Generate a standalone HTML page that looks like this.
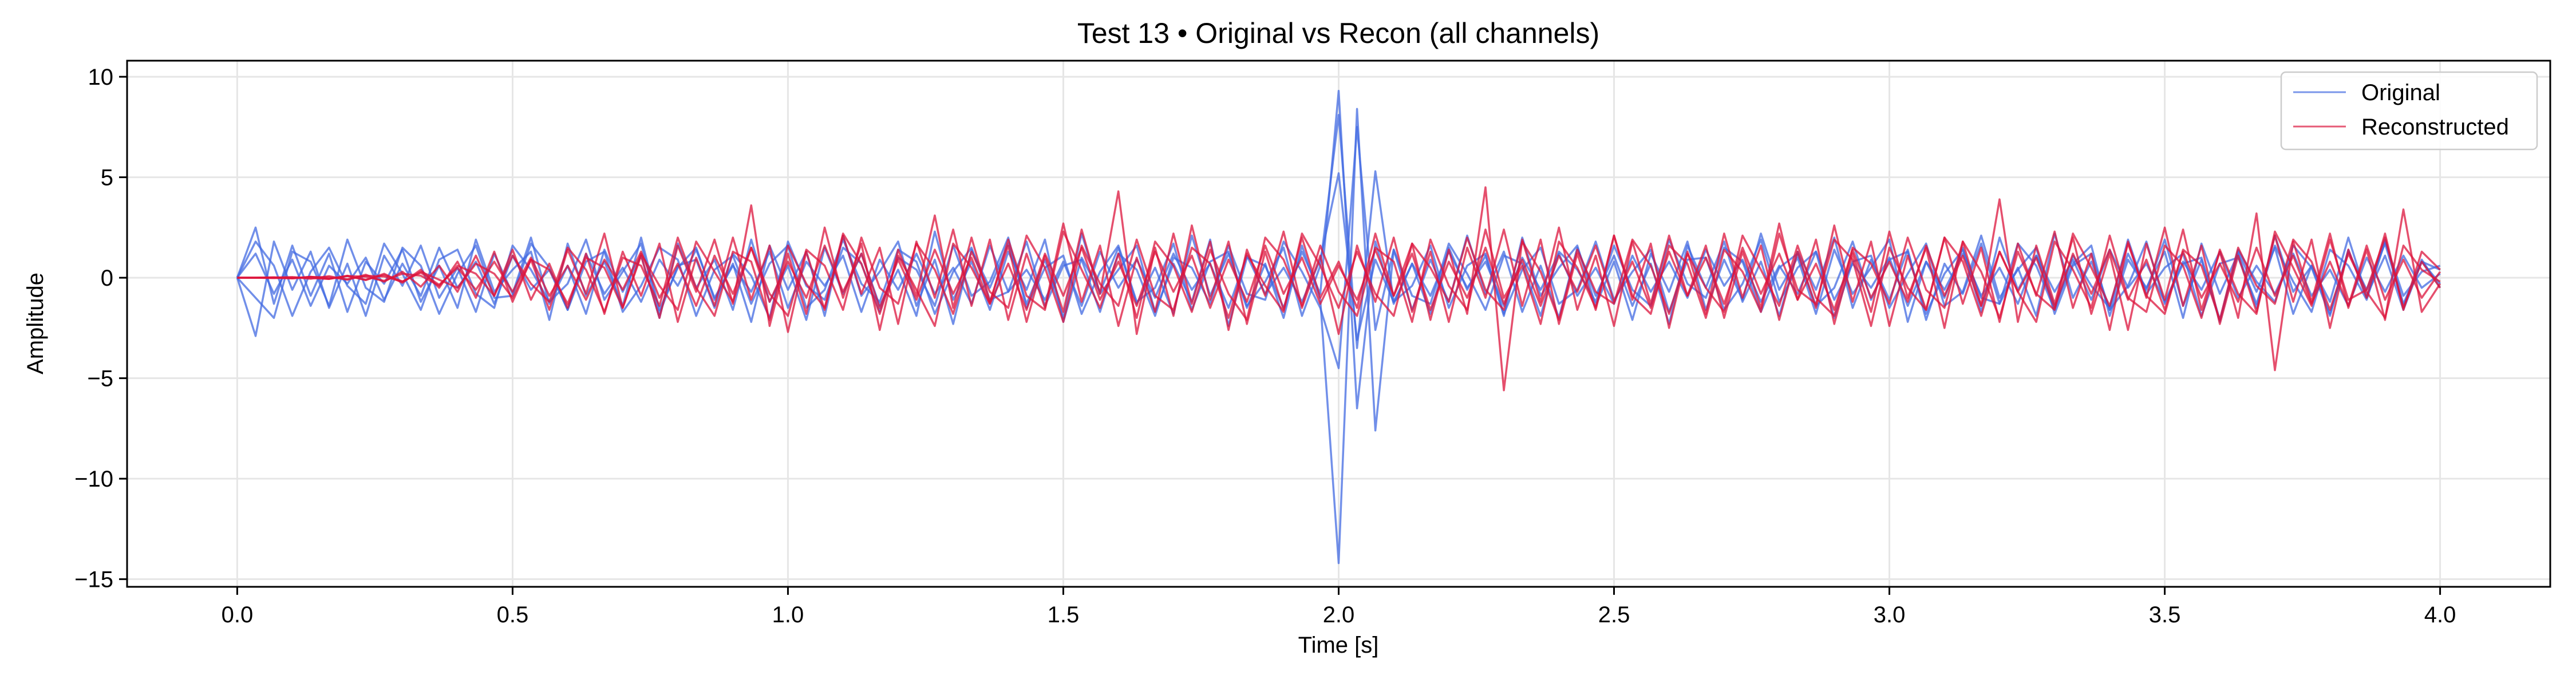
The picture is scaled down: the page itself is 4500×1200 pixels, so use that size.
<!DOCTYPE html>
<html><head><meta charset="utf-8"><style>
html,body{margin:0;padding:0;background:#fff;}
svg{display:block;font-family:"Liberation Sans","DejaVu Sans",sans-serif;}
</style></head><body>
<svg id="chart" width="4500" height="1200" viewBox="0 0 4500 1200">
<text x="2338" y="75" font-size="50" text-anchor="middle">Test 13 • Original vs Recon (all channels)</text>
<g id="grid"></g>
<g id="ticks"></g>
<g id="series"></g>
<rect x="222" y="106" width="4233" height="919" fill="none" stroke="#000" stroke-width="3"/>
<text x="2338" y="1140" font-size="40" text-anchor="middle">Time [s]</text>
<text x="75" y="565" font-size="40" text-anchor="middle" transform="rotate(-90 75 565)">Amplitude</text>
<g>
<rect x="3985" y="126" width="447" height="135" rx="8" fill="#fff" fill-opacity="0.85" stroke="#ccc" stroke-width="2.5"/>
<line x1="4006" y1="161" x2="4098" y2="161" stroke="#4169e1" stroke-width="3" stroke-opacity="0.7"/>
<text x="4125" y="175" font-size="40">Original</text>
<line x1="4006" y1="221" x2="4098" y2="221" stroke="#dc143c" stroke-width="3" stroke-opacity="0.7"/>
<text x="4125" y="235" font-size="40">Reconstructed</text>
</g>
</svg>
<script>
const xTicks=[0,0.5,1,1.5,2,2.5,3,3.5,4];
const xTickLabels=["0.0","0.5","1.0","1.5","2.0","2.5","3.0","3.5","4.0"];
const yTicks=[-15,-10,-5,0,5,10];
const yTickLabels=["\u221215","\u221210","\u22125","0","5","10"];
const T_END=4.0;
const origA=[0,2.5,-1.3,1.6,-0.9,1.2,-1.7,0.8,-0.3,1.4,-1.2,0.6,-1.5,1.9,-0.7,0.4,1.3,-2.1,1.7,-0.9,0.8,-1.4,2.0,-1.6,0.5,1.5,-1.1,0.7,-2.2,1.6,-0.6,1.3,-1.9,2.1,-0.9,0.3,1.8,-1.4,0.9,-2.3,1.4,-0.5,1.7,-1.3,0.9,-2.0,2.2,-0.8,0.4,1.6,-1.7,0.7,-1.2,1.9,-2.4,1.0,0.6,-1.5,1.3,-0.8,9.3,-6.5,1.8,-1.3,0.7,-1.8,1.5,-0.6,1.1,-1.9,2.0,-0.9,0.5,1.6,-1.4,0.8,-2.1,1.2,-0.7,1.8,-1.6,0.9,-1.1,2.2,-0.6,1.0,-1.8,1.4,-0.8,0.5,1.9,-2.2,0.8,-1.0,1.5,-1.7,2.0,-0.6,1.1,-1.4,0.7,1.6,-1.9,0.9,-0.5,1.3,-2.0,1.7,-0.8,1.2,-1.5,2.1,-0.7,0.6,-1.8,1.4,-1.0,1.9,-1.3,0.8,0.4];
const origB=[0,-2.9,1.8,-0.6,1.3,-1.5,0.7,-1.9,1.1,-0.4,1.6,-1.0,0.5,-1.7,1.2,-0.8,2.0,-1.3,0.6,-1.8,1.4,-0.7,1.1,-2.0,1.7,-0.5,0.9,-1.6,1.9,-1.2,0.6,-2.1,1.5,-0.8,1.2,-1.4,0.4,-1.9,2.3,-1.1,0.8,-1.6,1.3,-0.6,1.9,-2.2,1.0,-0.7,1.5,-1.3,0.5,-1.8,2.1,-0.9,1.2,-1.5,0.7,-2.0,1.6,-1.1,-14.2,8.4,-7.6,1.4,-1.6,0.9,-1.2,2.1,-0.8,1.3,-1.7,0.6,-2.0,1.5,-0.9,1.1,-1.4,0.7,-2.3,1.6,-0.5,1.8,-1.2,0.8,-1.9,1.3,-0.6,2.0,-1.5,0.9,-1.1,1.4,-2.1,0.7,-0.8,1.7,-1.3,0.5,-1.9,2.2,-1.0,0.8,-1.6,1.2,-0.6,1.9,-1.4,0.9,-2.2,1.3,-0.7,1.5,-1.8,0.6,-1.2,2.0,-0.9,1.1,-1.6,0.8,-0.3];
const origC=[0,1.2,-0.8,0.9,-1.4,0.6,-0.3,1.0,-1.1,0.7,-0.9,1.5,-0.5,0.8,-1.3,1.1,-0.6,0.4,-1.6,1.2,-0.8,0.5,-1.2,0.9,-0.4,1.4,-1.0,0.6,-0.7,1.3,-1.5,0.8,-0.4,1.1,-1.7,0.9,-0.6,1.2,-0.8,0.5,-1.3,1.6,-0.7,0.4,-1.1,0.8,-1.4,1.3,-0.5,0.9,-1.0,1.2,-0.6,0.7,-1.5,1.1,-0.8,0.5,-1.2,0.9,5.2,-3.1,0.9,-1.2,0.7,-0.9,1.3,-0.5,0.8,-1.4,1.0,-0.6,1.2,-0.9,0.5,-1.3,1.1,-0.7,0.8,-1.0,1.4,-0.4,0.9,-1.2,0.6,-0.8,1.3,-1.1,0.7,-0.5,1.0,-1.4,0.8,-0.6,1.2,-0.9,0.5,-1.3,1.1,-0.7,0.9,-1.1,1.4,-0.5,0.7,-1.2,0.8,-0.6,1.3,-1.0,0.6,-0.8,1.2,-0.9,0.4,-1.4,1.0,-0.7,1.1,-0.5,0.2];
const origD=[0,1.8,0.6,-1.9,0.3,1.5,-0.4,-1.3,1.7,0.2,-1.6,0.9,1.4,-0.8,-1.5,1.6,0.4,-1.2,-0.3,1.9,-1.1,0.3,1.7,-1.8,0.6,0.9,-1.5,1.2,0.1,-2.0,1.8,-0.4,-1.1,1.5,0.7,-1.7,1.0,0.4,-1.4,1.6,-0.9,-0.2,2.0,-1.5,0.5,1.1,-1.8,0.3,1.6,-1.2,-0.5,1.7,-1.6,0.8,1.3,-1.4,-0.2,1.5,-1.9,0.6,8.1,-3.5,5.3,-1.2,-0.4,1.6,-1.5,0.6,1.2,-1.8,0.4,1.5,-1.3,-0.6,1.8,-1.1,0.3,1.4,-1.7,0.9,1.0,-1.6,-0.3,1.9,-1.2,0.5,1.3,-2.0,0.8,1.1,-1.5,0.2,1.7,-1.4,-0.7,2.1,-1.0,0.4,1.5,-1.8,0.6,1.2,-1.6,-0.4,1.8,-1.3,0.7,1.0,-2.1,1.4,-0.2,-1.2,1.6,0.5,-1.9,1.3,-0.6,1.7,-1.4,0.9,-0.5];
const origE=[0,-1.0,-2.0,1.3,0.8,-1.4,1.9,-0.5,-1.2,1.5,0.6,-1.8,0.2,1.6,-1.0,-0.9,1.7,0.5,-1.6,0.8,1.3,-1.7,-0.4,1.5,0.9,-1.9,0.4,1.1,-1.3,0.7,1.6,-1.5,-0.6,1.9,-0.3,-1.2,1.4,0.8,-1.8,0.3,1.5,-1.1,-0.7,1.8,-1.4,0.6,0.9,-1.7,1.2,0.4,-1.9,1.0,0.5,-1.3,1.6,-0.8,-1.1,1.8,0.3,-1.5,-4.5,7.5,-2.6,1.4,-0.9,-1.3,1.7,0.2,-1.6,1.1,0.7,-1.9,1.3,0.4,-1.2,1.6,-0.6,-1.4,1.9,-0.3,-1.0,1.5,0.8,-1.7,0.5,1.2,-1.4,-0.5,1.8,-1.1,0.9,1.3,-1.8,0.2,1.4,-1.0,-1.3,1.7,0.6,-1.6,1.1,-0.4,-1.5,1.9,-0.8,0.5,1.2,-1.9,0.7,1.0,-1.3,1.6,-0.2,-1.7,1.4,0.6,-1.1,1.8,-0.9,0.3,0.6];
const reconA=[0,0,0.02,-0.03,0.05,-0.06,0.1,-0.12,0.2,-0.25,0.4,-0.5,0.8,-1.0,1.3,-1.2,0.9,-1.6,1.4,-0.8,2.2,-1.5,1.1,-2.0,1.6,-0.7,1.9,-1.3,3.6,-2.4,1.2,-1.8,2.5,-1.0,1.7,-2.6,1.4,-0.9,3.1,-1.5,2.0,-1.2,1.6,-2.2,1.1,-1.7,2.4,-0.8,4.3,-2.8,1.5,-1.9,2.6,-1.1,1.8,-2.3,1.3,-1.6,2.0,-1.0,0.8,-1.5,2.2,-0.9,1.7,-2.1,1.4,-1.8,4.5,-5.6,1.9,-1.2,2.5,-1.6,1.1,-2.4,1.8,-1.3,2.1,-0.9,1.6,-2.0,1.3,-1.5,2.7,-1.1,1.9,-2.3,1.2,-1.7,2.3,-1.0,1.5,-2.5,1.8,-1.4,3.9,-2.2,1.6,-1.3,2.0,-1.8,1.2,-2.6,1.7,-1.1,2.4,-1.6,1.3,-2.0,3.2,-4.6,1.8,-1.2,2.2,-1.5,1.4,-2.1,3.4,-1.7,-0.3];
const reconB=[0,0,-0.02,0.03,-0.05,0.08,-0.1,0.15,-0.2,0.3,-0.45,0.6,-0.7,1.1,-0.9,1.4,-1.1,0.7,-1.5,1.2,-1.8,1.3,-0.9,1.7,-2.2,1.0,-1.4,2.0,-1.1,1.6,-2.7,1.3,-1.6,2.1,-0.8,1.5,-2.3,1.8,-1.0,2.4,-1.4,1.9,-2.1,1.2,-1.5,2.7,-1.2,1.6,-2.4,1.0,-1.7,2.2,-1.3,1.8,-2.6,1.4,-0.9,2.3,-1.5,1.1,-2.8,1.6,-1.2,2.0,-1.7,1.3,-2.2,1.5,-1.0,2.4,-1.4,1.9,-2.3,1.2,-1.6,2.1,-1.1,1.7,-2.5,1.3,-1.8,2.2,-1.0,1.6,-2.1,1.3,-1.5,2.6,-1.2,1.8,-2.4,1.1,-1.6,2.0,-1.3,1.5,-2.2,1.7,-0.9,2.3,-1.5,1.2,-2.6,1.8,-1.0,2.5,-1.4,1.6,-2.3,1.1,-1.7,2.1,-1.2,1.9,-2.5,1.4,-1.0,2.2,-1.6,1.3,0.4];
const reconC=[0,0,0.01,-0.02,0.04,-0.05,0.08,-0.1,0.14,-0.18,0.25,-0.35,0.5,-0.6,0.8,-0.7,1.0,-0.9,0.6,-1.1,0.9,-0.6,1.3,-1.0,0.7,-1.4,1.1,-0.8,1.5,-1.2,0.8,-1.0,1.6,-0.7,1.2,-1.5,0.9,-1.1,1.4,-0.8,1.0,-1.3,0.7,-1.6,1.2,-0.9,1.5,-1.1,0.8,-1.4,1.3,-0.7,1.1,-1.5,0.9,-1.2,1.6,-0.8,1.0,-1.3,0.6,-1.1,1.4,-0.9,1.2,-1.6,0.8,-1.0,1.5,-1.3,0.9,-1.4,1.1,-0.7,1.6,-1.2,0.8,-1.5,1.3,-0.9,1.0,-1.3,1.5,-0.8,1.2,-1.1,0.7,-1.6,1.4,-1.0,0.8,-1.2,1.6,-0.9,1.1,-1.4,1.3,-0.7,1.0,-1.5,1.2,-0.8,1.4,-1.1,0.9,-1.6,1.3,-1.0,0.7,-1.2,1.5,-0.9,1.1,-1.3,0.8,-1.4,1.6,-1.1,0.9,-1.0,0.3];
const reconD=[0,0,0.01,0.03,-0.02,-0.06,0.09,0.05,-0.15,0.2,0.1,-0.4,0.6,0.2,-0.9,1.1,-0.3,-1.2,1.5,0.4,-1.7,1.0,0.6,-1.4,2.0,-0.5,-1.9,1.3,0.8,-2.1,1.6,-0.3,-1.5,2.2,0.7,-1.8,1.1,-0.6,-2.4,1.7,0.5,-1.3,1.9,-0.9,-1.6,2.3,0.4,-1.5,1.2,-2.0,1.8,0.6,-1.7,1.4,-0.8,-2.1,2.0,0.9,-1.4,1.6,-0.7,-1.9,1.5,0.8,-2.2,1.9,-0.4,-1.6,2.4,-1.0,0.6,-2.3,1.8,0.5,-1.5,2.1,-0.9,-1.8,1.6,0.7,-2.0,1.4,0.3,-1.7,2.2,-0.6,-1.3,1.9,0.9,-2.4,1.5,-0.5,-1.6,2.0,0.8,-1.9,1.3,-0.7,-2.2,1.8,0.4,-1.5,2.1,-1.0,-1.7,1.6,0.6,-2.0,1.4,-0.8,-1.8,2.3,0.5,-1.4,1.9,-1.1,-0.6,2.0,-1.5,0.8,-0.5];
const reconE=[0,0,-0.01,-0.03,0.04,0.02,-0.08,0.1,0.06,-0.2,0.3,-0.1,-0.5,0.7,0.2,-1.0,0.9,0.4,-1.3,1.0,0.5,-1.5,1.2,-0.4,-1.6,1.8,0.3,-1.2,1.5,-0.8,-1.9,1.4,0.6,-1.6,2.0,-0.5,-1.3,1.7,0.4,-1.8,1.3,-0.7,-1.5,2.1,0.5,-2.2,1.6,-0.3,-1.4,1.9,-0.9,-1.6,1.5,0.7,-2.0,1.2,-0.4,-1.7,2.2,0.6,-1.5,1.3,-0.8,-1.9,1.7,0.5,-1.2,2.0,-0.6,-1.6,1.8,0.3,-2.1,1.4,-0.7,-1.3,1.9,0.6,-1.8,1.2,-0.5,-1.7,2.1,0.4,-1.4,1.6,-1.0,-1.9,1.5,0.7,-1.3,2.0,-0.6,-1.5,1.8,0.3,-2.0,1.3,-0.8,-1.6,2.2,0.5,-1.4,1.7,-0.9,-1.8,1.4,0.6,-2.1,1.5,-0.4,-1.3,1.9,0.8,-1.6,1.2,-0.7,-2.0,1.6,0.4,-0.2];

const PL=222,PR=4455,PT=106,PB=1025,XMIN=-0.2,XMAX=4.2,YMIN=-15.38,YMAX=10.8;
function xs(v){return PL+(v-XMIN)/(XMAX-XMIN)*(PR-PL);}
function ys(v){return PB-(v-YMIN)/(YMAX-YMIN)*(PB-PT);}
const NS='http://www.w3.org/2000/svg';
const grid=document.getElementById('grid'),ticks=document.getElementById('ticks'),series=document.getElementById('series');
function mk(tag,attrs,parent){const e=document.createElementNS(NS,tag);for(const k in attrs)e.setAttribute(k,attrs[k]);parent.appendChild(e);return e;}
xTicks.forEach((v,i)=>{
  const g=mk('line',{x1:xs(v),x2:xs(v),y1:PT,y2:PB,stroke:'#e6e6e6','stroke-width':3},grid);
  
  
  const t=mk('line',{x1:xs(v),x2:xs(v),y1:PB,y2:PB+14,stroke:'#000','stroke-width':3},ticks);
  
  
  const l=mk('text',{x:xs(v),y:PB+62,'font-size':40,'text-anchor':'middle'},ticks);
  l.textContent=xTickLabels[i];
  
  
});
yTicks.forEach((v,i)=>{
  const g=mk('line',{x1:PL,x2:PR,y1:ys(v),y2:ys(v),stroke:'#e6e6e6','stroke-width':3},grid);
  
  
  const t=mk('line',{x1:PL-14,x2:PL,y1:ys(v),y2:ys(v),stroke:'#000','stroke-width':3},ticks);
  
  
  const l=mk('text',{x:PL-24,y:ys(v)+14,'font-size':40,'text-anchor':'end'},ticks);
  l.textContent=yTickLabels[i];
  
  
});
function drawLine(arr,color,name){
  const n=arr.length;
  const d=arr.map((v,i)=>(i?'L':'M')+xs(T_END*i/(n-1)).toFixed(1)+','+ys(v).toFixed(1)).join('');
  const p=mk('path',{d:d,fill:'none',stroke:color,'stroke-width':3.5,'stroke-opacity':0.75,'stroke-linejoin':'round'},series);
  
  
}
[origA,origB,origC,origD,origE].forEach((a,i)=>drawLine(a,'#4169e1','original-channel-'+(i+1)));
[reconA,reconB,reconC,reconD,reconE].forEach((a,i)=>drawLine(a,'#dc143c','reconstructed-channel-'+(i+1)));
</script>
</body></html>
